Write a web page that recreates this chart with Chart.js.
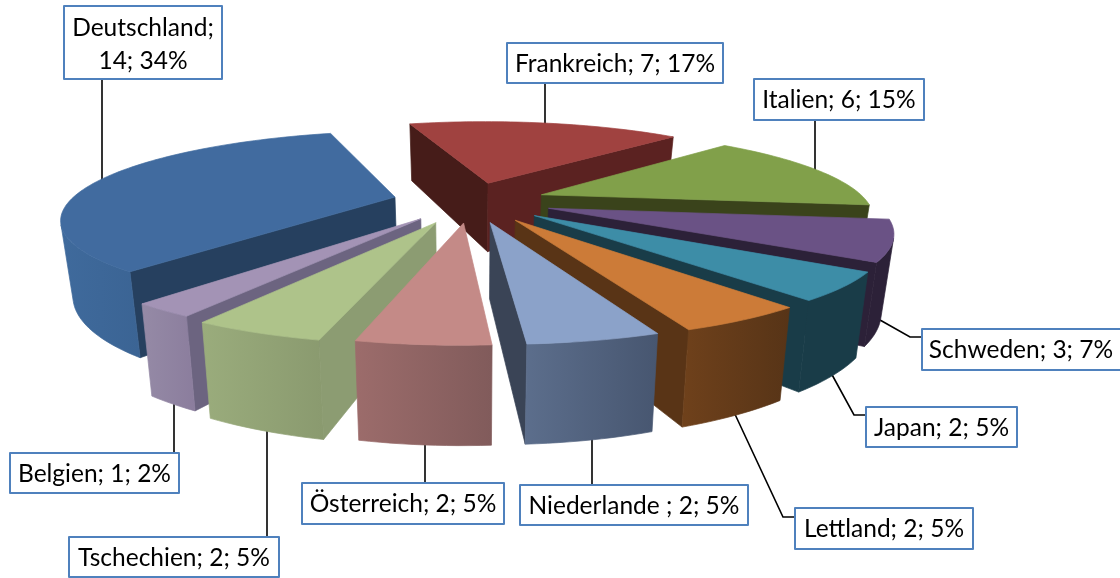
<!DOCTYPE html>
<html>
<head>
<meta charset="utf-8">
<style>
html, body { margin: 0; padding: 0; background: #fff; overflow: hidden; }
#wrap { width: 1120px; height: 578px; }
</style>
<script src="https://cdn.jsdelivr.net/npm/chart.js@4"></script>
</head>
<body>
<div id="wrap"><canvas id="chart" width="1120" height="578"></canvas></div>
<script>
const categories = ['Deutschland', 'Frankreich', 'Italien', 'Schweden', 'Japan', 'Lettland', 'Niederlande ', 'Österreich', 'Tschechien', 'Belgien'];
const values = [14, 7, 6, 3, 2, 2, 2, 2, 2, 1];
const percents = [34, 17, 15, 7, 5, 5, 5, 5, 5, 2];

const explode = [62, 60, 60, 64, 65, 66, 65, 65, 69, 65];

const topColors = ['#416B9F', '#A04240', '#81A04A', '#6A5285', '#3D8DA7', '#CC7B38', '#8BA2C9', '#C48A87', '#AEC38A', '#A393B5'];
const wallLeft = ['#3F6A9C', '#461c19', '#3a431b', '#2c2138', '#193c48', '#6f411b', '#5c6e8c', '#9c6c6b', '#9aac7c', '#958aa6'];
const wallRight = ['#3B6494', '#5b2221', '#3a431b', '#2c2138', '#193c48', '#573417', '#475670', '#815b5b', '#8a9a6f', '#8b7d9d'];
const cutStart = ['#26405f', '#461c19', '#3a431b', '#2c2138', '#193c48', '#593416', '#3a4456', '#815b5b', '#8c9c72', '#6c6480'];
const cutEnd = ['#26405f', '#5b2221', '#3a431b', '#2c2138', '#193c48', '#593416', '#3a4456', '#815b5b', '#8c9c72', '#6c6480'];

// label boxes: left, top, right, bottom
const labelBoxes = [
    [64, 6, 222, 79], [507, 43, 723, 83], [754, 79, 924, 120], [922, 329, 1126, 370], [866, 407, 1017, 447],
    [795, 508, 973, 549], [520, 485, 748, 525], [302, 483, 504, 524], [69, 537, 279, 577], [10, 453, 179, 493]
];
const leaders = [
    [[102, 79], [102, 186]], [[545, 83], [545, 126]], [[815, 120], [815, 172]], [[922, 337], [910, 337], [880, 320]],
    [[866, 415], [854, 415], [830, 371]], [[795, 517], [783, 517], [733, 410]], [[592, 485], [592, 436]],
    [[425, 483], [425, 442]], [[267, 537], [267, 424]], [[174, 453], [174, 400]]
];

// projection of the pie disc: perspective towards the viewer
const view = { cx: 471, cy: 201, fx: 325, fy: 82.6, persp: 0.226, height: 72, taper: 0.97, explodeUnit: 257 };

function project(x, y, z) {
    const s = 1 / (1 - view.persp * y);
    const k = z ? view.taper : 1;
    return [view.cx + x * view.fx * s * k, view.cy + y * view.fy * s + (z ? view.height * s : 0)];
}

function polygon(ctx, pts, fill) {
    ctx.beginPath();
    pts.forEach((p, i) => i ? ctx.lineTo(p[0], p[1]) : ctx.moveTo(p[0], p[1]));
    ctx.closePath();
    ctx.fillStyle = fill;
    ctx.fill();
    // hides the light seam between faces
    ctx.strokeStyle = fill;
    ctx.lineWidth = 0.7;
    ctx.lineJoin = 'round';
    ctx.stroke();
}

function area(pts) {
    let a = 0;
    pts.forEach((p, i) => {
        const q = pts[(i + 1) % pts.length];
        a += p[0] * q[1] - q[0] * p[1];
    });
    return a;
}

function drawSlice(ctx, el, i) {
    const e = el.options.offset / view.explodeUnit;
    const mid = (el.startAngle + el.endAngle) / 2;
    const ox = Math.cos(mid) * e;
    const oy = Math.sin(mid) * e;
    const steps = Math.max(4, Math.round((el.endAngle - el.startAngle) * 40));
    const rim = [];
    for (let k = 0; k <= steps; k++) {
        const a = el.startAngle + (el.endAngle - el.startAngle) * k / steps;
        rim.push([Math.cos(a) + ox, Math.sin(a) + oy]);
    }
    const apex = [ox, oy];
    const quad = (a, b) => [project(a[0], a[1], 0), project(b[0], b[1], 0), project(b[0], b[1], 1), project(a[0], a[1], 1)];

    const startQuad = quad(apex, rim[0]);
    if (area(startQuad) < 0) polygon(ctx, startQuad, cutStart[i]);
    const endQuad = quad(rim[steps], apex);
    if (area(endQuad) < 0) polygon(ctx, endQuad, cutEnd[i]);

    // outer wall: only the runs of the rim that face the viewer
    let run = [];
    const flush = () => {
        if (run.length > 1) {
            const tops = run.map(p => project(p[0], p[1], 0));
            const bots = run.map(p => project(p[0], p[1], 1)).reverse();
            const pts = tops.concat(bots);
            const xs = pts.map(p => p[0]);
            const g = ctx.createLinearGradient(Math.min(...xs), 0, Math.max(...xs), 0);
            g.addColorStop(0, wallLeft[i]);
            g.addColorStop(1, wallRight[i]);
            polygon(ctx, pts, g);
        }
        run = [];
    };
    for (let k = 0; k < steps; k++) {
        if (area(quad(rim[k], rim[k + 1])) < 0) {
            if (!run.length) run.push(rim[k]);
            run.push(rim[k + 1]);
        } else {
            flush();
        }
    }
    flush();

    polygon(ctx, [apex].concat(rim).map(p => project(p[0], p[1], 0)), topColors[i]);
}

const pie3d = {
    id: 'pie3d',
    beforeDatasetDraw(chart, args) {
        const ctx = chart.ctx;
        const arcs = chart.getDatasetMeta(args.index).data;

        // leader lines sit behind the slices
        ctx.save();
        ctx.strokeStyle = '#000';
        ctx.lineWidth = 1.6;
        leaders.forEach(line => {
            ctx.beginPath();
            line.forEach((p, k) => k ? ctx.lineTo(p[0], p[1]) : ctx.moveTo(p[0], p[1]));
            ctx.stroke();
        });
        ctx.restore();

        // back to front
        const order = arcs.map((el, i) => i).sort((a, b) => {
            const da = Math.sin((arcs[a].startAngle + arcs[a].endAngle) / 2);
            const db = Math.sin((arcs[b].startAngle + arcs[b].endAngle) / 2);
            return da - db;
        });
        order.forEach(i => drawSlice(ctx, arcs[i], i));
        return false;
    },
    afterDraw(chart) {
        const ctx = chart.ctx;
        ctx.save();
        ctx.font = '24.5px Lato';
        ctx.textAlign = 'center';
        ctx.textBaseline = 'middle';
        labelBoxes.forEach((b, i) => {
            ctx.fillStyle = '#fff';
            ctx.fillRect(b[0], b[1], b[2] - b[0], b[3] - b[1]);
            ctx.strokeStyle = '#4F81BD';
            ctx.lineWidth = 2;
            ctx.strokeRect(b[0], b[1], b[2] - b[0], b[3] - b[1]);
            ctx.fillStyle = '#000';
            const mx = (b[0] + b[2]) / 2;
            const my = (b[1] + b[3]) / 2;
            if (i === 0) {
                ctx.fillText(categories[i] + ';', mx, my - 14);
                ctx.fillText(values[i] + '; ' + percents[i] + '%', mx, my + 19);
            } else {
                const tx = i === 3 ? 1021 : mx;
                ctx.fillText(categories[i] + '; ' + values[i] + '; ' + percents[i] + '%', tx, my + 1);
            }
        });
        ctx.restore();
    }
};

new Chart(document.getElementById('chart'), {
    type: 'pie',
    data: {
        labels: categories,
        datasets: [{
            data: values,
            backgroundColor: topColors,
            borderWidth: 0,
            offset: explode
        }]
    },
    options: {
        responsive: false,
        animation: false,
        rotation: -140,
        layout: { padding: 0 },
        plugins: { legend: { display: false }, tooltip: { enabled: false } }
    },
    plugins: [pie3d]
});
</script>
</body>
</html>
